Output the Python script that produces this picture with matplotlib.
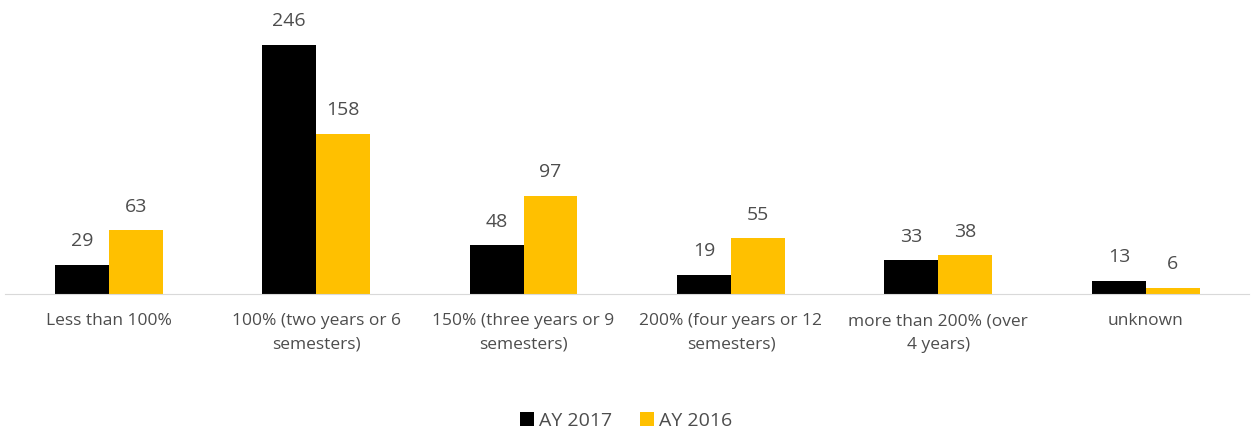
import numpy as np
import matplotlib
matplotlib.use("Agg")
import matplotlib.pyplot as plt

plt.rcParams.update({
    "font.family": ["Open Sans", "DejaVu Sans"],
    "font.size": 11,
})

categories = [
    "Less than 100%",
    "100% (two years or 6\nsemesters)",
    "150% (three years or 9\nsemesters)",
    "200% (four years or 12\nsemesters)",
    "more than 200% (over\n4 years)",
    "unknown",
]
ay2017 = [29, 246, 48, 19, 33, 13]
ay2016 = [63, 158, 97, 55, 38, 6]

TXT = "#4d4d4d"

fig = plt.figure(figsize=(12.52, 4.29), dpi=100)
ax = fig.add_axes([0.004, 0.315, 0.994, 0.66])

x = np.arange(len(categories))
w = 0.26
b1 = ax.bar(x - w / 2, ay2017, width=w, color="#000000", label="AY 2017")
b2 = ax.bar(x + w / 2, ay2016, width=w, color="#FFC000", label="AY 2016")

for bars, vals in [(b1, ay2017), (b2, ay2016)]:
    for bar, v in zip(bars, vals):
        ax.annotate(str(v), (bar.get_x() + bar.get_width() / 2, v),
                    xytext=(0, 17), textcoords="offset points",
                    ha="center", va="center", fontsize=14, color=TXT)

ax.set_xlim(-0.5, len(categories) - 0.5)
ax.set_ylim(0, 280)
ax.set_xticks(x)
ax.set_xticklabels(categories, fontsize=12.5, color=TXT, linespacing=1.6)
ax.tick_params(axis="x", length=0, pad=14)
ax.set_yticks([])
for s in ["top", "right", "left"]:
    ax.spines[s].set_visible(False)
ax.spines["bottom"].set_color("#d9d9d9")

fig.legend(handles=[b1, b2], loc="lower center", ncol=2, frameon=False,
           bbox_to_anchor=(0.5, -0.042), fontsize=14, handlelength=0.75,
           handleheight=0.75, handletextpad=0.25, columnspacing=1.4,
           labelcolor=TXT)

fig.savefig("out.png", dpi=100)
